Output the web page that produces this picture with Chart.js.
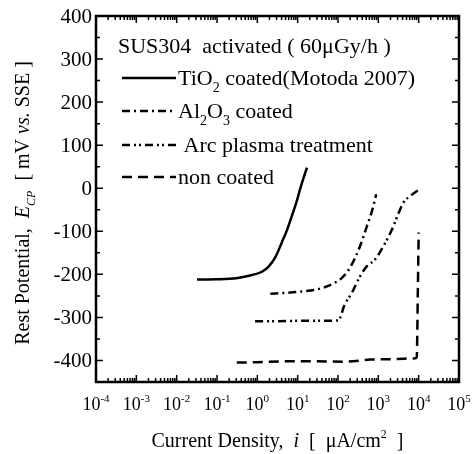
<!DOCTYPE html>
<html>
<head>
<meta charset="utf-8">
<script src="https://cdn.jsdelivr.net/npm/chart.js@4.4.1/dist/chart.umd.min.js"></script>
<style>
  html, body { margin: 0; padding: 0; background: #fff; }
  #wrap { width: 472px; height: 454px; }
</style>
</head>
<body>
<div id="wrap"><canvas id="chart" width="472" height="454"></canvas></div>
<script>
// curve data (current density in uA/cm2, potential in mV)
const tio2X = [0.032, 0.1, 0.3, 0.7, 1.3, 1.9, 2.8, 4.0, 5.5, 7.2, 9.3, 11.5, 14, 17];
const tio2Y = [-212, -211.5, -209, -202, -194, -182, -160, -127, -96, -64, -33, -2, 24, 48];

const al2o3X = [2.1, 5, 12, 30, 70, 125, 200, 354, 521, 695, 887];
const al2o3Y = [-245, -243, -240, -235, -223, -208, -184, -134, -88, -53, -14];

const arcX = [0.88, 3, 10, 30, 102, 120, 137, 151, 221, 355, 521, 834, 1350, 2190, 3200, 4200, 6200, 11000];
const arcY = [-309, -309, -308, -308, -307, -295, -277, -268, -243, -204, -181, -165, -134, -95, -57, -33, -18, -1];

const nonX = [0.31, 1, 5.4, 30, 138, 630, 2000, 8300, 9000, 9500, 10000];
const nonY = [-405, -404, -402, -402, -403, -398, -397, -395, -390, -250, -103];

const xExponents = [-4, -3, -2, -1, 0, 1, 2, 3, 4, 5];
const yTicks = [-400, -300, -200, -100, 0, 100, 200, 300, 400];

const FONT = '"Liberation Serif", "Times New Roman", serif';

const toPts = (xs, ys) => xs.map((x, i) => ({ x: x, y: ys[i] }));

// draws text made of pieces (italic / subscript / superscript)
function drawRich(ctx, segs, x, y, align, size) {
  const fontFor = s => (s.it ? 'italic ' : '') + ((s.sub || s.sup) ? Math.round(size * 0.62) : size) + 'px ' + FONT;
  let w = 0;
  segs.forEach(s => { ctx.font = fontFor(s); w += ctx.measureText(s.t).width; });
  let cx = align === 'center' ? x - w / 2 : (align === 'right' ? x - w : x);
  ctx.textAlign = 'left';
  ctx.textBaseline = 'alphabetic';
  segs.forEach(s => {
    ctx.font = fontFor(s);
    const dy = s.sub ? size * 0.3 : (s.sup ? -size * 0.45 : 0);
    ctx.fillText(s.t, cx, y + dy);
    cx += ctx.measureText(s.t).width;
  });
}

const legendRows = [
  { dash: [], segs: [{ t: 'TiO' }, { t: '2', sub: true }, { t: ' coated(Motoda 2007)' }] },
  { dash: [8, 4, 2, 4], segs: [{ t: 'Al' }, { t: '2', sub: true }, { t: 'O' }, { t: '3', sub: true }, { t: ' coated' }] },
  { dash: [8, 4, 2, 3, 2, 4], segs: [{ t: ' Arc plasma treatment' }] },
  { dash: [10, 6], segs: [{ t: 'non coated' }] }
];

const framePlugin = {
  id: 'frame',
  afterDraw(chart) {
    const ctx = chart.ctx;
    const a = chart.chartArea;
    const xs = chart.scales.x, ys = chart.scales.y;
    ctx.save();
    ctx.strokeStyle = '#000';
    ctx.fillStyle = '#000';
    ctx.setLineDash([]);

    // ticks pointing inwards on all four sides
    ctx.lineWidth = 1.5;
    ctx.beginPath();
    for (let v = -450; v <= 400; v += 50) {
      const py = ys.getPixelForValue(v);
      const len = v % 100 === 0 ? 7 : 4;
      ctx.moveTo(a.left, py); ctx.lineTo(a.left + len, py);
      ctx.moveTo(a.right, py); ctx.lineTo(a.right - len, py);
    }
    xExponents.forEach(e => {
      for (let m = 1; m <= 9; m++) {
        const v = m * Math.pow(10, e);
        if (v > 1e5) break;
        const px = xs.getPixelForValue(v);
        const len = m === 1 ? 7 : 4;
        ctx.moveTo(px, a.bottom); ctx.lineTo(px, a.bottom - len);
        ctx.moveTo(px, a.top); ctx.lineTo(px, a.top + len);
      }
    });
    ctx.stroke();

    ctx.lineWidth = 2.5;
    ctx.strokeRect(a.left, a.top, a.right - a.left, a.bottom - a.top);

    // y tick labels
    ctx.font = '21px ' + FONT;
    ctx.textAlign = 'right';
    ctx.textBaseline = 'middle';
    yTicks.forEach(v => ctx.fillText(String(v), a.left - 4, ys.getPixelForValue(v) + 1));

    // x tick labels 10^n
    xExponents.forEach(e => {
      drawRich(ctx, [{ t: '10' }, { t: String(e), sup: true }],
        xs.getPixelForValue(Math.pow(10, e)), 410, 'center', 18);
    });

    // axis titles
    drawRich(ctx, [{ t: 'Current Density,  ' }, { t: 'i', it: true }, { t: '  [  \u03bcA/cm' }, { t: '2', sup: true }, { t: '  ]' }],
      (a.left + a.right) / 2, 447, 'center', 20);
    ctx.save();
    ctx.translate(29, (a.top + a.bottom) / 2 + 4);
    ctx.rotate(-Math.PI / 2);
    drawRich(ctx, [{ t: 'Rest Potential,  ' }, { t: 'E', it: true }, { t: 'CP', it: true, sub: true },
      { t: '  [ mV ' }, { t: 'vs.', it: true }, { t: ' SSE ]' }], 0, 0, 'center', 20);
    ctx.restore();

    // legend block
    drawRich(ctx, [{ t: 'SUS304  activated ( 60\u03bcGy/h )' }], 118, 53, 'left', 22);
    const rowY = [78, 111, 145, 177];
    legendRows.forEach((r, i) => {
      ctx.lineWidth = 2.5;
      ctx.setLineDash(r.dash);
      ctx.beginPath();
      ctx.moveTo(122, rowY[i]);
      ctx.lineTo(176, rowY[i]);
      ctx.stroke();
      ctx.setLineDash([]);
      drawRich(ctx, r.segs, 178, rowY[i] + 7, 'left', 22);
    });
    ctx.restore();
  }
};

const lineDs = (xs, ys, dash) => ({
  data: toPts(xs, ys),
  borderColor: '#000',
  borderWidth: 2.5,
  borderDash: dash,
  pointRadius: 0,
  fill: false,
  cubicInterpolationMode: 'monotone'
});

new Chart(document.getElementById('chart'), {
  type: 'line',
  data: {
    datasets: [
      lineDs(tio2X, tio2Y, []),
      lineDs(al2o3X, al2o3Y, [8, 4, 2, 4]),
      lineDs(arcX, arcY, [8, 4, 2, 3, 2, 4]),
      lineDs(nonX, nonY, [10, 6])
    ]
  },
  options: {
    responsive: false,
    animation: false,
    layout: { padding: { left: 96, right: 13, top: 16, bottom: 72 } },
    plugins: { legend: { display: false }, tooltip: { enabled: false } },
    scales: {
      x: { type: 'logarithmic', min: 1e-4, max: 1e5, display: false },
      y: { type: 'linear', min: -450, max: 400, display: false }
    }
  },
  plugins: [framePlugin]
});
</script>
</body>
</html>
